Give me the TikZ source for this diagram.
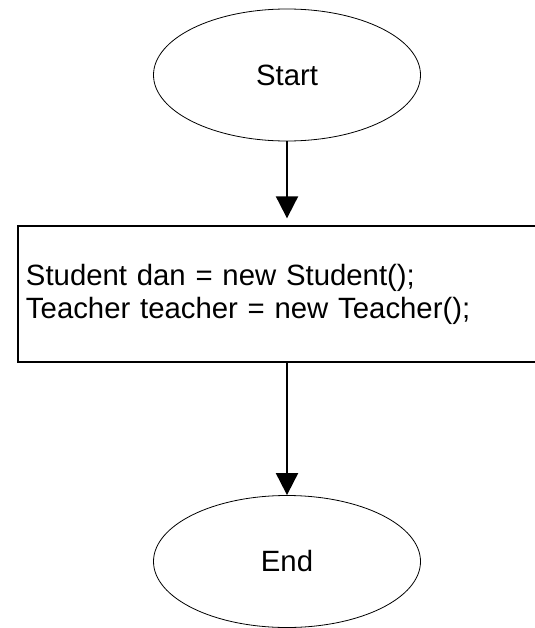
\documentclass[tikz,border=0pt]{standalone}
\usepackage{fontspec}
\setmainfont{Liberation Sans}
\usetikzlibrary{shapes.geometric,arrows.meta}

\begin{document}
\begin{tikzpicture}[x=0.75pt,y=0.75pt,yscale=-1,xscale=1,
  font=\fontsize{22}{24.75}\selectfont,
  terminal/.style={draw, ellipse, line width=0.6pt, minimum width=200.25pt, minimum height=99pt, inner sep=0pt},
  process/.style={draw, rectangle, line width=1.5pt, minimum height=102pt, text width=391.5pt, inner xsep=6pt, align=left},
  flow/.style={line width=1.5pt, -{Triangle[width=16.5pt,length=16.5pt]}}]
\useasboundingbox (0,0) rectangle (535,628);

%Flowchart: Terminator
\node [terminal] (start) at (287,75) {Start};
%Flowchart: Process
\node [process] (init) at (287,294) {Student dan = new Student();\\Teacher teacher = new Teacher();};
%Flowchart: Terminator
\node [terminal] (stop) at (287,561.5) {End};

%Straight Lines
\draw [flow, shorten >=5pt] (start) -- (init);
%Straight Lines
\draw [flow] (init) -- (stop);

\end{tikzpicture}
\end{document}
